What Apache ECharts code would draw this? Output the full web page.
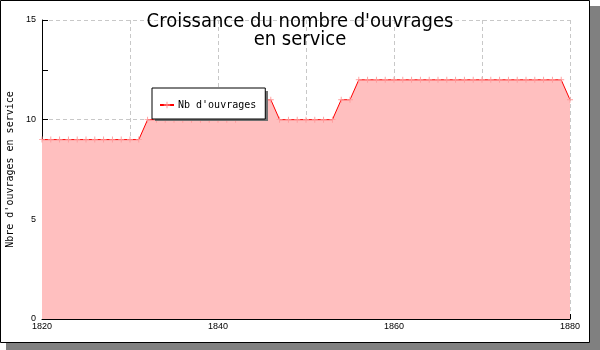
<!DOCTYPE html>
<html><head><meta charset="utf-8">
<script src="https://cdn.jsdelivr.net/npm/echarts@6/dist/echarts.min.js"></script>
<style>html,body{margin:0;padding:0;background:#fff}#c{width:600px;height:350px}</style>
</head><body><div id="c"></div>
<script>
const years = [];
for (let y = 1820; y <= 1880; y++) years.push(y);
const counts = [
  9,9,9,9,9,9,9,9,9,9,   // 1820-1829
  9,9,10,10,10,10,10,10,10,10, // 1830-1839
  10,10,10,11,11,11,11,10,10,10, // 1840-1849
  10,10,10,10,11,11,12,12,12,12, // 1850-1859
  12,12,12,12,12,12,12,12,12,12, // 1860-1869
  12,12,12,12,12,12,12,12,12,12, // 1870-1879
  11 // 1880
];
const titleText = "Croissance du nombre d'ouvrages\nen service";
const yName = "Nbre d'ouvrages en service";
const seriesName = "Nb d'ouvrages";
const xLabels = [1820, 1840, 1860, 1880];

const chart = echarts.init(document.getElementById('c'), null, {renderer: 'canvas'});
chart.setOption({
  animation: false,
  backgroundColor: '#fff',
  graphic: [
    {type: 'rect', shape: {x: 6, y: 6, width: 594, height: 344}, style: {fill: '#808080'}, z: -10},
    {type: 'rect', shape: {x: 0.5, y: 0.5, width: 589, height: 342}, style: {fill: '#fff', stroke: '#000', lineWidth: 1}, z: -9},
    {type: 'rect', shape: {x: 155, y: 91, width: 113, height: 30}, style: {fill: '#707070'}, z: 50}
  ],
  title: {
    text: titleText, left: 'center', top: 8,
    textStyle: {fontFamily: 'DejaVu Sans Condensed, DejaVu Sans', fontSize: 20, fontWeight: 'normal', color: '#000', lineHeight: 18}
  },
  legend: {
    left: 152, top: 88,
    backgroundColor: '#fff', borderColor: '#000', borderWidth: 1,
    padding: [12, 9, 9, 7], itemWidth: 14, itemHeight: 8, itemGap: 4,
    textStyle: {fontFamily: 'DejaVu Sans Mono', fontSize: 10, color: '#000', padding: [0, 0, 0, -1]},
    data: [seriesName], z: 60
  },
  grid: {left: 42, right: 30, top: 20, bottom: 31, outerBoundsMode: 'none', containLabel: false},
  xAxis: {
    type: 'value', min: 1820, max: 1880, interval: 10,
    axisLine: {lineStyle: {color: '#000'}},
    axisTick: {inside: true, length: 5, lineStyle: {color: '#000'}},
    minorTick: {show: true, splitNumber: 10, length: 3, lineStyle: {color: '#000'}},
    axisLabel: {
      fontFamily: 'Liberation Sans', fontSize: 9, color: '#000', margin: 3,
      formatter: v => xLabels.includes(v) ? String(v) : ''
    },
    splitLine: {show: true, lineStyle: {color: '#c8c8c8', type: [4, 3]}}
  },
  yAxis: {
    type: 'value', min: 0, max: 15, interval: 5,
    name: yName, nameLocation: 'middle', nameGap: 25, nameRotate: 90,
    nameTextStyle: {fontFamily: 'DejaVu Sans Mono', fontSize: 10, color: '#000'},
    axisLine: {show: true, lineStyle: {color: '#000'}},
    axisTick: {show: true, inside: true, length: 6, lineStyle: {color: '#000'}},
    minorTick: {show: true, splitNumber: 2, length: 6, lineStyle: {color: '#000'}},
    axisLabel: {fontFamily: 'Liberation Sans', fontSize: 9, color: '#000', margin: 6},
    splitLine: {show: true, lineStyle: {color: '#c8c8c8', type: [4, 3]}}
  },
  series: [{
    name: seriesName, type: 'line',
    data: years.map((y, i) => [y, counts[i]]),
    lineStyle: {color: '#ff0000', width: 1},
    itemStyle: {color: '#ff9a9a'},
    symbol: 'path://M-1,-0.15H1V0.15H-1Z M-0.15,-1H0.15V1H-0.15Z',
    symbolSize: 6,
    areaStyle: {color: '#ffbfbf', opacity: 1},
    color: '#ff0000'
  }]
});
</script></body></html>
